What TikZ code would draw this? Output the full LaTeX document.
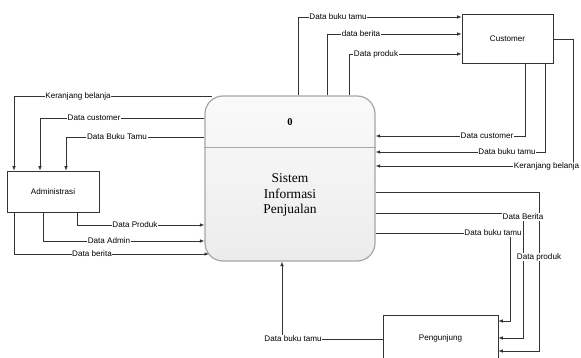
\documentclass[tikz,border=0pt]{standalone}
\usepackage{fontspec}
\setmainfont{Liberation Sans}
\newfontfamily\seriffont{Liberation Serif}
\usetikzlibrary{arrows.meta}
\begin{document}
\begin{tikzpicture}[x=1pt,y=-1pt,
  flow/.style={draw=black!80, line width=0.65pt},
  arr/.style={flow,-{Latex[length=4.5pt,width=3.5pt]}},
  lbl/.style={fill=white,inner sep=0.6pt,font=\fontsize{8.1}{9}\selectfont},
  ent/.style={draw=black!80,line width=0.7pt,font=\fontsize{8.1}{10}\selectfont,inner sep=0pt},
  proc/.style={draw=gray!70,line width=1.2pt,rounded corners=18pt,top color=gray!4,bottom color=gray!15,inner sep=0pt}
]
\useasboundingbox (0,0) rectangle (581,358);
% entities
\node[ent, minimum width=92pt, minimum height=41pt] (adm) at (53,191.5) {Administrasi};
\node[ent, minimum width=91pt, minimum height=49pt] (cus) at (507.5,38.5) {Customer};
\node[ent, minimum width=115pt, minimum height=46pt, anchor=north] (pen) at (440.5,315) {Pengunjung};
% process
\node[proc, minimum width=170pt, minimum height=165pt] (proc) at (290,178.5) {};
\coordinate (dv) at (0,148);
\draw[gray!70,line width=1pt] (proc.west |- dv) -- (proc.east |- dv);
\node (pid) at (290,122) {\seriffont\bfseries\fontsize{10.5}{12}\selectfont 0};
\node[align=center,font=\seriffont\fontsize{13.5}{15.5}\selectfont] (pname) at (290,195) {Sistem\\Informasi\\Penjualan};

% left: into Administrasi
\coordinate (a1) at (14,96);
\coordinate (a2) at (40,118);
\coordinate (a3) at (66,137);
\coordinate (e1) at (212,96);
\draw[arr] (e1) -- (a1) -- (adm.north -| a1);
\draw[arr] (proc.west |- a2) -- (a2) -- (adm.north -| a2);
\draw[arr] (proc.west |- a3) -- (a3) -- (adm.north -| a3);
\node[lbl] (l1) at (78,96) {Keranjang belanja};
\node[lbl] (l2) at (94,118) {Data customer};
\node[lbl] (l3) at (117,137) {Data Buku Tamu};

% left: out of Administrasi
\coordinate (b1) at (77,225);
\coordinate (b2) at (43,241);
\coordinate (b3) at (14,254);
\coordinate (e2) at (209,254);
\draw[arr] (adm.south -| b1) -- (b1) -- (proc.west |- b1);
\draw[arr] (adm.south -| b2) -- (b2) -- (proc.west |- b2);
\draw[arr] (adm.south -| b3) -- (b3) -- (e2);
\node[lbl] (l4) at (135,225) {Data Produk};
\node[lbl] (l5) at (109,241) {Data Admin};
\node[lbl] (l6) at (92,254) {Data berita};

% top: to Customer
\coordinate (c1) at (298,17);
\coordinate (c2) at (327,34);
\coordinate (c3) at (349,54);
\draw[arr] (proc.north -| c1) -- (c1) -- (cus.west |- c1);
\draw[arr] (proc.north -| c2) -- (c2) -- (cus.west |- c2);
\draw[arr] (proc.north -| c3) -- (c3) -- (cus.west |- c3);
\node[lbl] (l7) at (338,17) {Data buku tamu};
\node[lbl] (l8) at (361,34) {data berita};
\node[lbl] (l9) at (376,54) {Data produk};

% Customer: to process
\coordinate (d1) at (525,136);
\coordinate (d2) at (545,152);
\coordinate (d3a) at (573,39);
\coordinate (d3) at (573,166);
\draw[arr] (cus.south -| d1) -- (d1) -- (proc.east |- d1);
\draw[arr] (cus.south -| d2) -- (d2) -- (proc.east |- d2);
\draw[arr] (cus.east |- d3a) -- (d3a) -- (d3) -- (proc.east |- d3);
\node[lbl] (l10) at (487,136) {Data customer};
\node[lbl] (l11) at (507,152) {Data buku tamu};
\node[lbl,anchor=east] (l12) at (580,166) {Keranjang belanja};

% process: to Pengunjung
\coordinate (f1) at (539,192);
\coordinate (f1b) at (539,351);
\coordinate (f2) at (523,213);
\coordinate (f2b) at (523,338);
\coordinate (f3) at (510,233);
\coordinate (f3b) at (510,321);
\draw[arr] (proc.east |- f1) -- (f1) -- (f1b) -- (pen.east |- f1b);
\draw[arr] (proc.east |- f2) -- (f2) -- (f2b) -- (pen.east |- f2b);
\draw[arr] (proc.east |- f3) -- (f3) -- (f3b) -- (pen.east |- f3b);
\node[lbl] (l13) at (539,257) {Data produk};
\node[lbl] (l14) at (523,217) {Data Berita};
\node[lbl] (l15) at (493,233) {Data buku tamu};

% Pengunjung: to process
\coordinate (g1) at (282,339);
\draw[arr] (pen.west |- g1) -- (g1) -- (proc.south -| g1);
\node[lbl] (l16) at (293,339) {Data buku tamu};
\end{tikzpicture}
\end{document}
